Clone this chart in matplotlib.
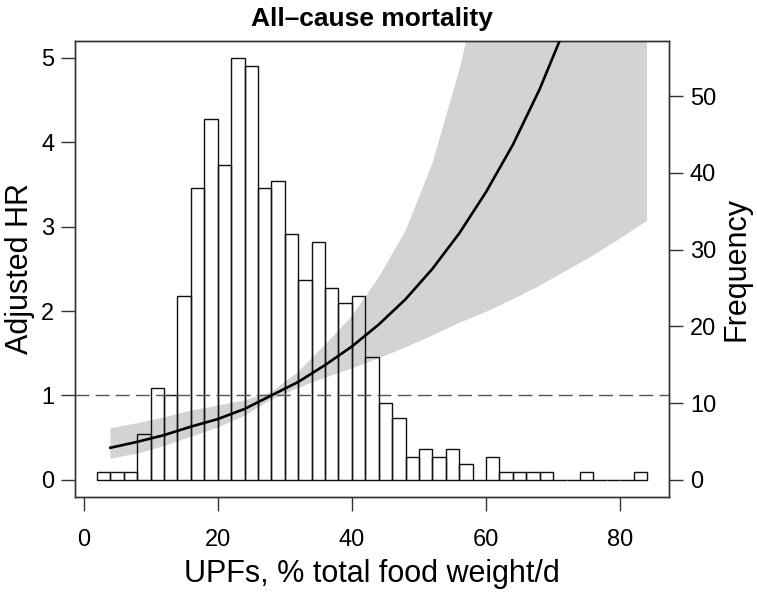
import numpy as np
import matplotlib
matplotlib.use("Agg")
import matplotlib.pyplot as plt

plt.rcParams['font.family'] = ['Liberation Sans', 'DejaVu Sans']

# histogram of UPF intake (bins of width 2, from 2 to 84)
bin_left = list(range(2, 84, 2))
counts = [1, 1, 1, 6, 12, 11, 24, 38, 47, 41, 55, 54, 38, 39, 32, 26, 31, 25, 23, 24,
          16, 10, 8, 3, 4, 3, 4, 2, 0, 3, 1, 1, 1, 1, 0, 0, 1, 0, 0, 0, 1]

# adjusted hazard ratio curve with 95% CI band
upf = [4, 8, 12, 16, 20, 24, 28, 32, 36, 40, 44, 48, 52, 56, 60, 64, 68, 72, 76, 80, 84]
hr = [0.38, 0.45, 0.53, 0.63, 0.72, 0.84, 1.00, 1.16, 1.36, 1.58, 1.84, 2.14, 2.50,
      2.92, 3.41, 3.97, 4.63, 5.40, 6.30, 7.35, 8.57]
hr_lo = [0.25, 0.31, 0.40, 0.51, 0.62, 0.76, 0.95, 1.09, 1.21, 1.32, 1.44, 1.57, 1.71,
         1.86, 1.99, 2.14, 2.30, 2.48, 2.66, 2.86, 3.07]
hr_hi = [0.61, 0.67, 0.74, 0.82, 0.88, 0.94, 1.04, 1.28, 1.60, 1.94, 2.40, 2.95, 3.75,
         4.85, 6.20, 7.90, 10.1, 12.9, 16.4, 21.0, 26.7]

W, H = 757, 600
fig = plt.figure(figsize=(W / 100, H / 100), dpi=100)
box = [75 / W, (H - 496.7) / H, (669 - 75) / W, (496.7 - 41) / H]

ax = fig.add_axes(box)
ax.fill_between(upf, hr_lo, hr_hi, color='#d3d3d3', lw=0)
ax.set_xlim(-1.28, 87.28)
ax.set_ylim(-0.2, 5.2)
ax.set_xticks([0, 20, 40, 60, 80])
ax.set_yticks([0, 1, 2, 3, 4, 5])

axf = ax.twinx()
axf.bar(bin_left, counts, width=2, align='edge', fill=False, edgecolor='#111111', lw=1.0)
axf.set_ylim(-2.2, 57.2)
axf.set_yticks([0, 10, 20, 30, 40, 50])

# top layer for the curve and reference line
axc = ax.twinx()
axc.set_ylim(ax.get_ylim())
axc.axis('off')
axc.axhline(1, color='#555555', lw=1.0, ls=(0, (10, 4.5)))
axc.plot(upf, hr, color='black', lw=1.9)

for a in (ax, axf):
    for s in a.spines.values():
        s.set_color('#333333')
        s.set_linewidth(1.0)
    a.tick_params(direction='out', length=10, width=1.0, color='#333333', labelsize=17)

ax.tick_params(axis='x', pad=13)
ax.tick_params(axis='y', pad=5)
axf.tick_params(axis='y', pad=5)

ax.set_xlabel('UPFs, % total food weight/d', fontsize=22, labelpad=6)
ax.set_ylabel('Adjusted HR', fontsize=22, labelpad=4)
axf.set_ylabel('Frequency', fontsize=22, labelpad=4)
ax.set_title('All\u2013cause mortality', fontsize=19, fontweight='bold', pad=11)

fig.savefig('out.png', dpi=100)
